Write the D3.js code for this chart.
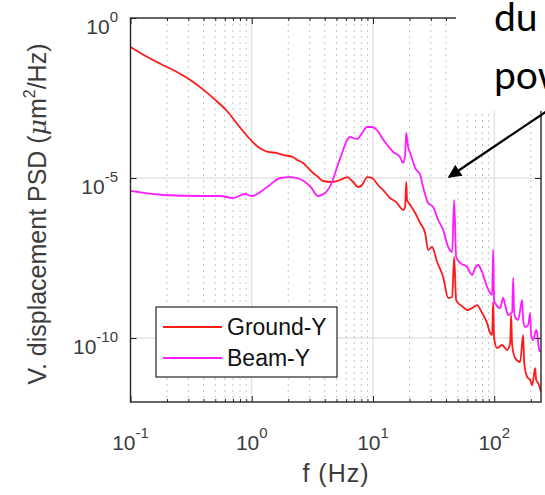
<!DOCTYPE html>
<html>
<head>
<meta charset="utf-8">
<script src="https://cdn.jsdelivr.net/npm/d3@7"></script>
<style>
  html, body { margin: 0; padding: 0; background: #fff; }
  svg { display: block; }
</style>
</head>
<body>
<svg id="chart" width="545" height="495"></svg>
<script>
// ---------------- data ----------------
const seriesNames = ["Ground-Y", "Beam-Y"];

const groundFreq = [0.1, 0.132, 0.179, 0.233, 0.298, 0.396, 0.498, 0.625, 0.771, 0.931,
  1.02, 1.13, 1.24, 1.36, 1.62, 1.81, 2.19, 2.37, 2.65, 2.86,
  3.21, 3.46, 3.88, 4.60, 5.35, 6.11, 6.85, 7.54, 8.13, 8.94,
  9.83, 11.0, 12.1, 13.8, 15.8, 16.7, 17.7, 18.4, 18.8, 19.1,
  20.3, 22.3, 24.5, 26.9, 28.5, 30.7, 33.8, 37.9, 41.7, 45.0,
  46.7, 48.5, 50.4, 55.4, 59.7, 65.7, 72.2, 79.4, 87.3, 92.5,
  96.1, 97.9, 99.7, 105.6, 116.2, 127.7, 135.3, 137.8, 140.5, 148.8,
  163.6, 173.1, 176.4, 186.8, 197.8, 205.4, 217.5, 221.8, 230.2, 243];
const groundPSD = [1.24e-1, 6.6e-2, 3.6e-2, 2.2e-2, 1.28e-2, 5.9e-3, 2.8e-3, 1.24e-3, 4.53e-4, 1.91e-4,
  1.33e-4, 9.3e-5, 7.5e-5, 6.5e-5, 6.04e-5, 5.24e-5, 4.53e-5, 3.65e-5, 2.94e-5, 2.21e-5,
  1.43e-5, 1.15e-5, 8.06e-6, 7.5e-6, 8.66e-6, 1.07e-5, 7.5e-6, 5.24e-6, 6.04e-6, 1.07e-5,
  1.0e-5, 6.04e-6, 4.22e-6, 2.37e-6, 1.66e-6, 1.24e-6, 1.0e-6, 1.24e-6, 7.5e-6, 2.05e-6,
  1.43e-6, 8.06e-7, 3.93e-7, 1.91e-7, 5.62e-8, 6.98e-8, 2.37e-8, 8.06e-9, 1.78e-9, 1.91e-9,
  3.40e-8, 1.54e-9, 1.24e-9, 9.3e-10, 7.5e-10, 8.66e-10, 1.07e-9, 6.04e-10, 2.94e-10, 1.43e-10,
  1.24e-10, 1.33e-9, 1.0e-10, 4.87e-11, 6.04e-11, 4.22e-11, 6.98e-11, 5.24e-10, 6.04e-11, 2.37e-11,
  1.78e-11, 1.24e-10, 1.78e-11, 6.04e-12, 4.87e-12, 3.40e-12, 1.15e-11, 4.87e-12, 3.93e-12, 2.05e-12];

const beamFreq = [0.1, 0.185, 0.396, 0.547, 0.701, 0.881, 1.00, 1.11, 1.24, 1.41,
  1.71, 2.07, 2.50, 3.03, 3.52, 4.02, 4.60, 5.06, 5.56, 6.11,
  6.47, 7.39, 8.13, 8.94, 9.83, 10.8, 11.9, 13.1, 14.7, 16.7,
  17.7, 18.4, 18.8, 19.5, 20.3, 22.3, 24.5, 25.9, 28.5, 31.3,
  34.5, 37.9, 41.7, 45.0, 46.7, 48.5, 52.3, 59.7, 65.7, 69.5,
  73.6, 79.4, 87.3, 92.5, 96.1, 97.9, 99.7, 101.7, 111.9, 118.4,
  123, 130.2, 140.5, 143.2, 145.9, 148.8, 157.5, 169.9, 173.1, 179.8,
  190.4, 197.8, 201.5, 209.4, 221.8, 225.9, 234.6, 243];
const beamPSD = [3.93e-6, 2.94e-6, 2.74e-6, 2.74e-6, 2.37e-6, 3.16e-6, 2.74e-6, 3.16e-6, 4.22e-6, 6.04e-6,
  1.0e-5, 1.07e-5, 9.3e-6, 5.62e-6, 2.74e-6, 3.40e-6, 7.5e-6, 2.21e-5, 6.04e-5, 1.54e-4,
  1.91e-4, 1.66e-4, 2.55e-4, 3.93e-4, 3.93e-4, 3.16e-4, 1.78e-4, 1.07e-4, 6.5e-5, 4.53e-5,
  2.94e-5, 5.24e-5, 2.55e-4, 9.3e-5, 6.04e-5, 2.05e-5, 1.24e-5, 5.24e-6, 1.66e-6, 1.24e-6,
  4.87e-7, 2.37e-7, 6.98e-8, 4.87e-8, 2.05e-6, 3.40e-8, 2.21e-8, 1.66e-8, 9.3e-9, 1.54e-8,
  1.91e-8, 1.15e-8, 3.93e-9, 2.55e-9, 2.21e-9, 5.62e-8, 1.54e-9, 1.24e-9, 8.66e-10, 1.78e-9,
  1.07e-9, 5.24e-10, 6.49e-10, 7.5e-9, 6.49e-10, 4.53e-10, 3.65e-10, 1.54e-9, 3.65e-10, 2.21e-10,
  2.55e-10, 6.04e-10, 1.24e-10, 8.66e-11, 1.78e-10, 1.43e-10, 4.22e-11, 3.65e-11];

const xTickValues = [0.1, 1, 10, 100];
const xTickExponents = ["-1", "0", "1", "2"];
const yTickValues = [1, 1e-5, 1e-10];
const yTickExponents = ["0", "-5", "-10"];
const xLabel = "f (Hz)";
const annotationLines = ["du", "pow"];

// ---------------- layout ----------------
const svg = d3.select("#chart");
const L = 130.5, R = 541, T = 18, B = 402;
const x = d3.scaleLog().domain([0.1, 243]).range([L, R]);
const y = d3.scaleLog().domain([1e-12, 1]).range([B, T]);
const axisColor = "#262626";
const textColor = "#3c3c3c";
const font = "'Liberation Sans', Arial, sans-serif";

// minor x values
const minorX = [];
for (let e = -1; e <= 2; e++) for (let m = 2; m <= 9; m++) {
  const v = m * Math.pow(10, e);
  if (v < 243) minorX.push(v);
}

const grid = svg.append("g");
grid.selectAll("line.minor").data(minorX).join("line")
  .attr("x1", d => x(d)).attr("x2", d => x(d)).attr("y1", T).attr("y2", B)
  .attr("stroke", "#c4c4c4").attr("stroke-width", 1).attr("stroke-dasharray", "2,4");
grid.selectAll("line.majx").data(xTickValues.slice(1)).join("line")
  .attr("x1", d => x(d)).attr("x2", d => x(d)).attr("y1", T).attr("y2", B)
  .attr("stroke", "#d6d6d6").attr("stroke-width", 1);
grid.selectAll("line.majy").data(yTickValues.slice(1)).join("line")
  .attr("x1", L).attr("x2", R).attr("y1", d => y(d)).attr("y2", d => y(d))
  .attr("stroke", "#d6d6d6").attr("stroke-width", 1);

// clip
svg.append("clipPath").attr("id", "plotclip").append("rect")
  .attr("x", L).attr("y", T).attr("width", R - L).attr("height", B - T);

const line = d3.line().x(d => x(d[0])).y(d => y(d[1])).curve(d3.curveMonotoneX);
const groundData = groundFreq.map((f, i) => [f, groundPSD[i]]);
const beamData = beamFreq.map((f, i) => [f, beamPSD[i]]);
const colors = ["#ff1a1a", "#ff1aff"];

const plot = svg.append("g").attr("clip-path", "url(#plotclip)");
plot.append("path").datum(groundData).attr("d", line)
  .attr("fill", "none").attr("stroke", colors[0]).attr("stroke-width", 1.8).attr("stroke-linejoin", "round");
plot.append("path").datum(beamData).attr("d", line)
  .attr("fill", "none").attr("stroke", colors[1]).attr("stroke-width", 1.8).attr("stroke-linejoin", "round");

// axes (ticks inward)
function styleAxis(g) {
  g.selectAll("path.domain").remove();
  g.selectAll("line").attr("stroke", axisColor);
  g.selectAll("text").remove();
}
svg.append("g").attr("transform", `translate(0,${B})`)
  .call(d3.axisBottom(x).tickValues(xTickValues).tickSize(-6).tickFormat("")).call(styleAxis);
svg.append("g").attr("transform", `translate(0,${B})`)
  .call(d3.axisBottom(x).tickValues(minorX).tickSize(-3).tickFormat("")).call(styleAxis);
svg.append("g").attr("transform", `translate(0,${T})`)
  .call(d3.axisTop(x).tickValues(xTickValues).tickSize(-6).tickFormat("")).call(styleAxis);
svg.append("g").attr("transform", `translate(0,${T})`)
  .call(d3.axisTop(x).tickValues(minorX).tickSize(-3).tickFormat("")).call(styleAxis);
svg.append("g").attr("transform", `translate(${L},0)`)
  .call(d3.axisLeft(y).tickValues(yTickValues).tickSize(-6).tickFormat("")).call(styleAxis);
svg.append("g").attr("transform", `translate(${R},0)`)
  .call(d3.axisRight(y).tickValues(yTickValues).tickSize(-6).tickFormat("")).call(styleAxis);

svg.append("rect").attr("x", L).attr("y", T).attr("width", R - L).attr("height", B - T)
  .attr("fill", "none").attr("stroke", axisColor).attr("stroke-width", 1.4);

// tick labels
const xt = svg.append("g").attr("font-family", font).attr("fill", textColor);
xTickValues.forEach((v, i) => {
  const t = xt.append("text").attr("x", x(v)).attr("y", 450).attr("text-anchor", "middle");
  t.append("tspan").attr("font-size", 21).text("10");
  t.append("tspan").attr("font-size", 15).attr("dy", -12).text(xTickExponents[i]);
});
yTickValues.forEach((v, i) => {
  const t = xt.append("text").attr("x", 118).attr("y", y(v) + 16).attr("text-anchor", "end");
  t.append("tspan").attr("font-size", 21).text("10");
  t.append("tspan").attr("font-size", 15).attr("dy", -12).text(yTickExponents[i]);
});

// axis labels
xt.append("text").attr("x", 336).attr("y", 482).attr("text-anchor", "middle")
  .attr("font-size", 25).attr("letter-spacing", 1).text(xLabel);
const yl = xt.append("text").attr("transform", "translate(46,214) rotate(-90)")
  .attr("text-anchor", "middle").attr("font-size", 25);
yl.append("tspan").text("V. displacement PSD (");
yl.append("tspan").attr("font-family", "'DejaVu Serif', serif").attr("font-style", "italic").text("μ");
yl.append("tspan").text("m");
yl.append("tspan").attr("font-size", 16).attr("dy", -11).text("2");
yl.append("tspan").attr("dy", 11).text("/Hz)");

// legend
const lg = svg.append("g");
lg.append("rect").attr("x", 156).attr("y", 307).attr("width", 181).attr("height", 70)
  .attr("fill", "#fff").attr("stroke", axisColor).attr("stroke-width", 1.2);
seriesNames.forEach((n, i) => {
  const yy = 327 + i * 31;
  lg.append("line").attr("x1", 163).attr("x2", 222).attr("y1", yy).attr("y2", yy)
    .attr("stroke", colors[i]).attr("stroke-width", 1.8);
  lg.append("text").attr("x", 227).attr("y", yy + 8).attr("font-family", font)
    .attr("font-size", 23).attr("fill", "#111").text(n);
});

// annotation overlay (cropped slide text + arrow)
svg.append("rect").attr("x", 456).attr("y", 0).attr("width", 89).attr("height", 111).attr("fill", "#fff");
const defs = svg.append("defs");
defs.append("marker").attr("id", "arrowhead").attr("viewBox", "0 0 10 10")
  .attr("refX", 9).attr("refY", 5).attr("markerWidth", 7).attr("markerHeight", 6)
  .attr("markerUnits", "strokeWidth").attr("orient", "auto")
  .append("path").attr("d", "M0,0 L10,5 L0,10 Z").attr("fill", "#000");
svg.append("line").attr("x1", 547).attr("y1", 111).attr("x2", 449).attr("y2", 177)
  .attr("stroke", "#000").attr("stroke-width", 2.2).attr("marker-end", "url(#arrowhead)");
annotationLines.forEach((s, i) => {
  svg.append("text").attr("x", 494).attr("y", 31 + i * 58)
    .attr("font-family", "Lato, 'Open Sans', sans-serif").attr("font-size", 39)
    .attr("fill", "#000").text(s);
});
</script>
</body>
</html>
